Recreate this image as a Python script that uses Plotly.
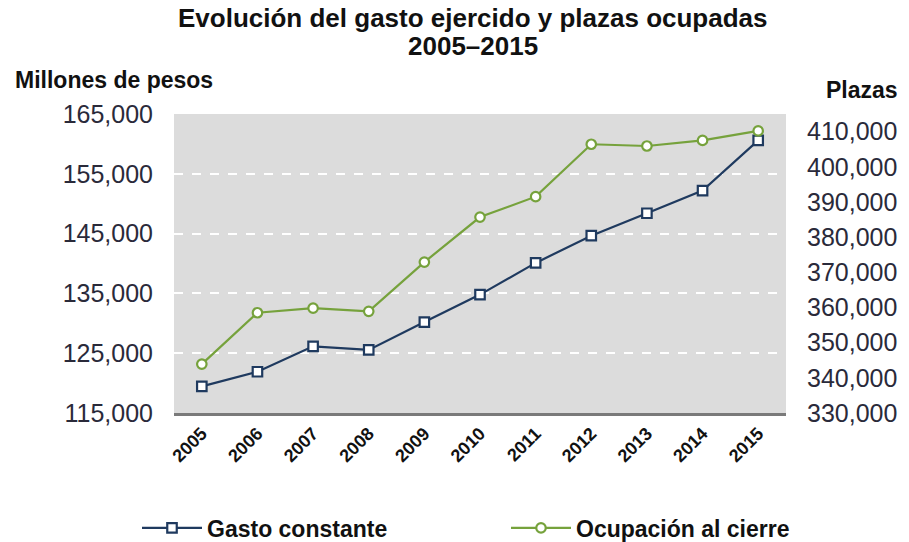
import plotly.graph_objects as go

years = ["2005", "2006", "2007", "2008", "2009", "2010", "2011", "2012", "2013", "2014", "2015"]
gasto_constante = [119450, 121900, 126150, 125550, 130200, 134800, 140100, 144650, 148400, 152200, 160600]
ocupacion_cierre = [343900, 358500, 359800, 358900, 372900, 385700, 391500, 406400, 405900, 407500, 410200]

left_ticks = [115000, 125000, 135000, 145000, 155000, 165000]
right_ticks = [330000, 340000, 350000, 360000, 370000, 380000, 390000, 400000, 410000]

navy = "#1f3a5f"
green = "#76a23c"
font_fam = "Liberation Sans, Arial, sans-serif"

fig = go.Figure()
fig.add_trace(go.Scatter(
    x=years, y=gasto_constante, name="Gasto constante", mode="lines+markers",
    line=dict(color=navy, width=2.2),
    marker=dict(symbol="square", size=9.5, color="white", line=dict(color=navy, width=2.2)),
    yaxis="y", legend="legend", showlegend=True,
))
fig.add_trace(go.Scatter(
    x=years, y=ocupacion_cierre, name="Ocupación al cierre", mode="lines+markers",
    line=dict(color=green, width=2.2),
    marker=dict(symbol="circle", size=9.5, color="white", line=dict(color=green, width=2.2)),
    yaxis="y2", legend="legend2", showlegend=True,
))


def legend_box(xpx):
    return dict(
        orientation="h", xref="container", yref="container",
        x=xpx / 909, y=14 / 542, xanchor="left", yanchor="middle",
        font=dict(size=23, color="#111111", family=font_fam, weight="bold"),
        itemwidth=60, bgcolor="rgba(0,0,0,0)",
    )


fig.update_layout(
    width=909, height=542,
    showlegend=True,
    margin=dict(l=174, r=118, t=114, b=129),
    paper_bgcolor="white",
    plot_bgcolor="#dcdcdc",
    font=dict(family=font_fam, color="#222222"),
    xaxis=dict(
        type="category", range=[-0.5, 10.5],
        tickangle=-45, tickfont=dict(size=18, color="#111111", family=font_fam, weight="bold"),
        showgrid=False, showline=True, linecolor="#7a7a7a", linewidth=3,
        ticks="", zeroline=False,
    ),
    yaxis=dict(
        range=[115000, 165000], tickvals=left_ticks, tickformat=",",
        tickfont=dict(size=25, color="#2a2a3a"),
        showgrid=True, gridcolor="white", griddash="dash", gridwidth=1.5,
        zeroline=False, ticks="", ticklabelstandoff=20,
    ),
    yaxis2=dict(
        range=[330000, 415000], tickvals=right_ticks, tickformat=",",
        overlaying="y", side="right",
        tickfont=dict(size=25, color="#2a2a3a"),
        showgrid=False, zeroline=False, ticks="", ticklabelstandoff=20,
    ),
    legend=legend_box(137),
    legend2=legend_box(506),
    annotations=[
        dict(text="<b>Evolución del gasto ejercido y plazas ocupadas</b>", xref="paper", yref="paper",
             x=0.488, y=1.321, xanchor="center", yanchor="middle", showarrow=False,
             font=dict(size=26, color="#111111")),
        dict(text="<b>2005–2015</b>", xref="paper", yref="paper",
             x=0.488, y=1.227, xanchor="center", yanchor="middle", showarrow=False,
             font=dict(size=26, color="#111111")),
        dict(text="<b>Millones de pesos</b>", xref="paper", yref="paper",
             x=-0.263, y=(413 - 80) / 299, xanchor="left", yanchor="middle", showarrow=False,
             font=dict(size=23, color="#111111")),
        dict(text="<b>Plazas</b>", xref="paper", yref="paper",
             x=(906 - 174) / 617, y=(413 - 90) / 299, xanchor="right", yanchor="middle", showarrow=False,
             font=dict(size=23, color="#111111")),
    ],
)

fig.write_html(
    "out.html",
    config={"displayModeBar": False},
    post_script="document.body.style.margin='0px';document.body.style.overflow='hidden';",
)
